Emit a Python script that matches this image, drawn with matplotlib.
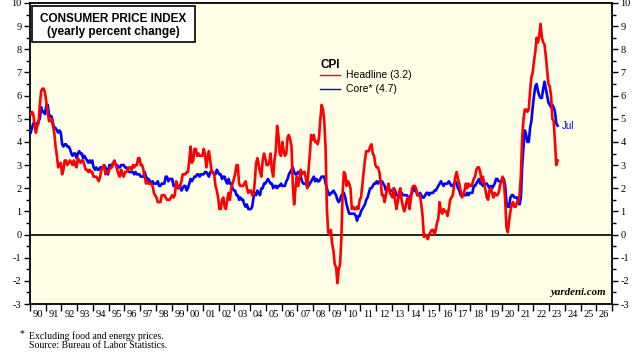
import matplotlib
matplotlib.use("Agg")
import matplotlib.pyplot as plt
from matplotlib.lines import Line2D
from matplotlib.patches import Rectangle
from matplotlib.ticker import FixedLocator, NullFormatter, FixedFormatter

plt.rcParams["axes.unicode_minus"] = False

# Monthly yearly % change, Jan 1990 .. Jul 2023
start_year = 1990
headline = [
    5.2, 5.3, 5.2, 4.7, 4.4, 4.7, 4.8, 5.6, 6.2, 6.3, 6.3, 6.1,   # 1990
    5.7, 5.3, 4.9, 4.9, 5.0, 4.7, 4.4, 3.8, 3.4, 2.9, 3.0, 3.1,   # 1991
    2.6, 2.8, 3.2, 3.2, 3.0, 3.1, 3.2, 3.1, 3.0, 3.2, 3.0, 2.9,   # 1992
    3.3, 3.2, 3.1, 3.2, 3.2, 3.0, 2.8, 2.8, 2.7, 2.8, 2.7, 2.7,   # 1993
    2.5, 2.5, 2.5, 2.4, 2.3, 2.5, 2.8, 2.9, 3.0, 2.6, 2.7, 2.7,   # 1994
    2.8, 2.9, 2.9, 3.1, 3.2, 3.0, 2.8, 2.6, 2.5, 2.8, 2.6, 2.5,   # 1995
    2.7, 2.7, 2.8, 2.9, 2.9, 2.8, 3.0, 2.9, 3.0, 3.0, 3.3, 3.3,   # 1996
    3.0, 3.0, 2.8, 2.5, 2.2, 2.3, 2.2, 2.2, 2.2, 2.1, 1.8, 1.7,   # 1997
    1.6, 1.4, 1.4, 1.4, 1.7, 1.7, 1.7, 1.6, 1.5, 1.5, 1.5, 1.6,   # 1998
    1.7, 1.6, 1.7, 2.3, 2.1, 2.0, 2.1, 2.3, 2.6, 2.6, 2.6, 2.7,   # 1999
    2.7, 3.2, 3.8, 3.1, 3.2, 3.7, 3.7, 3.4, 3.5, 3.4, 3.4, 3.4,   # 2000
    3.7, 3.5, 2.9, 3.3, 3.6, 3.2, 2.7, 2.7, 2.6, 2.1, 1.9, 1.6,   # 2001
    1.1, 1.1, 1.5, 1.6, 1.2, 1.1, 1.5, 1.8, 1.5, 2.0, 2.2, 2.4,   # 2002
    2.6, 3.0, 3.0, 2.2, 2.1, 2.1, 2.1, 2.2, 2.3, 2.0, 1.8, 1.9,   # 2003
    1.9, 1.7, 1.7, 2.3, 3.1, 3.3, 3.0, 2.7, 2.5, 3.2, 3.5, 3.3,   # 2004
    3.0, 3.0, 3.1, 3.5, 2.8, 2.5, 3.2, 3.6, 4.7, 4.3, 3.5, 3.4,   # 2005
    4.0, 3.6, 3.4, 3.5, 4.2, 4.3, 4.1, 3.8, 2.1, 1.3, 2.0, 2.5,   # 2006
    2.1, 2.4, 2.8, 2.6, 2.7, 2.7, 2.4, 2.0, 2.8, 3.5, 4.3, 4.1,   # 2007
    4.3, 4.0, 4.0, 3.9, 4.2, 5.0, 5.6, 5.4, 4.9, 3.7, 1.1, 0.1,   # 2008
    0.0, 0.2, -0.4, -0.7, -1.3, -1.4, -2.1, -1.5, -1.3, -0.2, 1.8, 2.7,  # 2009
    2.6, 2.1, 2.3, 2.2, 2.0, 1.1, 1.2, 1.1, 1.1, 1.2, 1.1, 1.5,   # 2010
    1.6, 2.1, 2.7, 3.2, 3.6, 3.6, 3.6, 3.8, 3.9, 3.5, 3.4, 3.0,   # 2011
    2.9, 2.9, 2.7, 2.3, 1.7, 1.7, 1.4, 1.7, 2.0, 2.2, 1.8, 1.7,   # 2012
    1.6, 2.0, 1.5, 1.1, 1.4, 1.8, 2.0, 1.5, 1.2, 1.0, 1.2, 1.5,   # 2013
    1.6, 1.1, 1.5, 2.0, 2.1, 2.1, 2.0, 1.7, 1.7, 1.7, 1.3, 0.8,   # 2014
    -0.1, 0.0, -0.1, -0.2, 0.0, 0.1, 0.2, 0.2, 0.0, 0.2, 0.5, 0.7,  # 2015
    1.4, 1.0, 0.9, 1.1, 1.0, 1.0, 0.8, 1.1, 1.5, 1.6, 1.7, 2.1,   # 2016
    2.5, 2.7, 2.4, 2.2, 1.9, 1.6, 1.7, 1.9, 2.2, 2.0, 2.2, 2.1,   # 2017
    2.1, 2.2, 2.4, 2.5, 2.8, 2.9, 2.9, 2.7, 2.3, 2.5, 2.2, 1.9,   # 2018
    1.6, 1.5, 1.9, 2.0, 1.8, 1.6, 1.8, 1.7, 1.7, 1.8, 2.1, 2.3,   # 2019
    2.5, 2.3, 1.5, 0.3, 0.1, 0.6, 1.0, 1.3, 1.4, 1.2, 1.2, 1.4,   # 2020
    1.4, 1.7, 2.6, 4.2, 5.0, 5.4, 5.4, 5.3, 5.4, 6.2, 6.8, 7.0,   # 2021
    7.5, 7.9, 8.5, 8.3, 8.6, 9.1, 8.5, 8.3, 8.2, 7.7, 7.1, 6.5,   # 2022
    6.4, 6.0, 5.0, 4.9, 4.0, 3.0, 3.2,                            # 2023
]
core = [
    4.4, 4.6, 4.8, 4.8, 4.7, 4.8, 4.9, 5.0, 5.5, 5.3, 5.3, 5.2,   # 1990
    5.6, 5.6, 5.2, 5.1, 5.1, 4.8, 4.6, 4.6, 4.5, 4.4, 4.5, 4.4,   # 1991
    3.9, 3.8, 3.9, 3.9, 3.8, 3.8, 3.7, 3.5, 3.4, 3.5, 3.5, 3.3,   # 1992
    3.5, 3.6, 3.5, 3.5, 3.3, 3.4, 3.3, 3.2, 3.1, 3.2, 3.1, 3.2,   # 1993
    2.9, 2.8, 2.9, 2.8, 2.8, 2.9, 2.9, 2.9, 3.0, 2.9, 2.8, 2.6,   # 1994
    3.0, 3.0, 3.0, 3.1, 3.1, 3.0, 3.0, 2.9, 2.9, 3.0, 3.0, 3.0,   # 1995
    2.9, 2.9, 2.8, 2.7, 2.7, 2.7, 2.7, 2.6, 2.7, 2.6, 2.6, 2.6,   # 1996
    2.5, 2.5, 2.5, 2.7, 2.5, 2.4, 2.4, 2.3, 2.2, 2.3, 2.2, 2.2,   # 1997
    2.2, 2.3, 2.1, 2.1, 2.2, 2.2, 2.2, 2.5, 2.5, 2.3, 2.4, 2.4,   # 1998
    2.4, 2.1, 2.1, 2.2, 2.0, 2.1, 2.1, 1.9, 2.0, 2.1, 2.1, 1.9,   # 1999
    2.0, 2.2, 2.4, 2.3, 2.4, 2.5, 2.5, 2.6, 2.6, 2.5, 2.6, 2.6,   # 2000
    2.6, 2.7, 2.7, 2.6, 2.5, 2.7, 2.7, 2.7, 2.6, 2.6, 2.8, 2.7,   # 2001
    2.6, 2.6, 2.4, 2.5, 2.5, 2.3, 2.2, 2.4, 2.2, 2.2, 2.0, 1.9,   # 2002
    1.9, 1.7, 1.7, 1.5, 1.6, 1.5, 1.5, 1.3, 1.2, 1.3, 1.1, 1.1,   # 2003
    1.1, 1.2, 1.6, 1.8, 1.7, 1.9, 1.8, 1.7, 2.0, 2.0, 2.2, 2.2,   # 2004
    2.3, 2.4, 2.3, 2.2, 2.2, 2.0, 2.1, 2.1, 2.0, 2.1, 2.1, 2.2,   # 2005
    2.1, 2.1, 2.1, 2.3, 2.4, 2.6, 2.7, 2.8, 2.9, 2.7, 2.6, 2.6,   # 2006
    2.7, 2.7, 2.5, 2.3, 2.2, 2.2, 2.2, 2.1, 2.1, 2.2, 2.3, 2.4,   # 2007
    2.5, 2.3, 2.4, 2.3, 2.3, 2.4, 2.5, 2.5, 2.5, 2.2, 2.0, 1.8,   # 2008
    1.7, 1.8, 1.8, 1.9, 1.8, 1.7, 1.5, 1.4, 1.5, 1.7, 1.7, 1.8,   # 2009
    1.6, 1.3, 1.1, 0.9, 0.9, 0.9, 0.9, 0.9, 0.8, 0.6, 0.8, 0.8,   # 2010
    1.0, 1.1, 1.2, 1.3, 1.5, 1.6, 1.8, 2.0, 2.0, 2.1, 2.2, 2.2,   # 2011
    2.3, 2.2, 2.3, 2.3, 2.3, 2.2, 2.1, 1.9, 2.0, 2.0, 1.9, 1.9,   # 2012
    1.9, 2.0, 1.9, 1.7, 1.7, 1.6, 1.7, 1.8, 1.7, 1.7, 1.7, 1.7,   # 2013
    1.6, 1.6, 1.7, 1.8, 2.0, 1.9, 1.9, 1.7, 1.7, 1.8, 1.7, 1.6,   # 2014
    1.6, 1.7, 1.8, 1.8, 1.7, 1.8, 1.8, 1.8, 1.9, 1.9, 2.0, 2.1,   # 2015
    2.2, 2.3, 2.2, 2.1, 2.2, 2.2, 2.2, 2.3, 2.2, 2.1, 2.1, 2.2,   # 2016
    2.3, 2.2, 2.0, 1.9, 1.7, 1.7, 1.7, 1.7, 1.7, 1.8, 1.7, 1.8,   # 2017
    1.8, 1.8, 2.1, 2.1, 2.2, 2.3, 2.4, 2.2, 2.2, 2.1, 2.2, 2.2,   # 2018
    2.2, 2.1, 2.0, 2.1, 2.0, 2.1, 2.2, 2.4, 2.4, 2.3, 2.3, 2.3,   # 2019
    2.3, 2.4, 2.1, 1.4, 1.2, 1.2, 1.6, 1.7, 1.7, 1.6, 1.6, 1.6,   # 2020
    1.4, 1.3, 1.6, 3.0, 3.8, 4.5, 4.3, 4.0, 4.0, 4.6, 4.9, 5.5,   # 2021
    6.0, 6.4, 6.5, 6.2, 6.0, 5.9, 5.9, 6.3, 6.6, 6.3, 6.0, 5.7,   # 2022
    5.6, 5.5, 5.6, 5.5, 5.3, 4.8, 4.7,                            # 2023
]
year_labels = [f"{y % 100:02d}" for y in range(1990, 2027)]
y_ticks = list(range(-3, 11))
last_month_label = "Jul"
headline_label = "Headline (3.2)"
core_label = "Core* (4.7)"

x_h = [start_year + (i + 0.5) / 12 for i in range(len(headline))]
x_c = [start_year + (i + 0.5) / 12 for i in range(len(core))]

SERIF = ["Liberation Serif", "DejaVu Serif"]
SANS = ["Liberation Sans", "DejaVu Sans"]
RED = "#FF0000"
BLUE = "#0000FF"

fig = plt.figure(figsize=(6.4, 3.6), dpi=100)
fig.patch.set_facecolor("white")
ax = fig.add_axes([30 / 640, 1 - 304 / 360, 582 / 640, 301 / 360])
ax.set_facecolor("#FFFEE6")

ax.axhline(0, color="black", lw=1.2, zorder=2)
ax.plot(x_c, core, color=BLUE, lw=1.9, zorder=3, solid_joinstyle="round")
ax.plot(x_h, headline, color=RED, lw=1.9, zorder=4, solid_joinstyle="round")

ax.set_xlim(1990, 2027)
ax.set_ylim(-3, 10)

for s in ax.spines.values():
    s.set_linewidth(1.3)

# y axis: both sides
ax.set_yticks(y_ticks)
ax.yaxis.set_minor_locator(FixedLocator([v + 0.5 for v in y_ticks[:-1]]))
ax.tick_params(axis="y", which="both", direction="out", left=True, right=True,
               labelleft=True, labelright=True, width=1.0, pad=2)
ax.tick_params(axis="y", which="major", length=4)
ax.tick_params(axis="y", which="minor", length=3)
for lab in ax.get_yticklabels():
    lab.set_fontfamily(SERIF)
    lab.set_fontsize(7.5)

# x axis: ticks at year boundaries, labels centred
ax.xaxis.set_major_locator(FixedLocator(list(range(1990, 2028))))
ax.xaxis.set_major_formatter(NullFormatter())
ax.xaxis.set_minor_locator(FixedLocator([y + 0.5 for y in range(1990, 2027)]))
ax.xaxis.set_minor_formatter(FixedFormatter(year_labels))
ax.tick_params(axis="x", which="major", direction="out", length=5, width=1.0)
ax.tick_params(axis="x", which="minor", length=0, pad=4)
for lab in ax.get_xticklabels(minor=True):
    lab.set_fontfamily(SERIF)
    lab.set_fontsize(7.5)

# title box
fig.add_artist(Rectangle((32 / 640, 1 - 42 / 360), 163 / 640, 36 / 360,
                         transform=fig.transFigure, facecolor="white",
                         edgecolor="black", lw=1.2, zorder=10))
fig.text(113.5 / 640, 1 - 18.5 / 360, "CONSUMER PRICE INDEX", ha="center", va="center",
         fontsize=8.5, fontweight="bold", family=SANS, zorder=11)
fig.text(113.5 / 640, 1 - 31.5 / 360, "(yearly percent change)", ha="center", va="center",
         fontsize=8.5, fontweight="bold", family=SANS, zorder=11)

# legend
fig.text(320.5 / 640, 1 - 65 / 360, "CPI", ha="left", va="center", fontsize=8.5,
         fontweight="bold", family=SANS)
fig.add_artist(Line2D([320 / 640, 340 / 640], [1 - 75.3 / 360] * 2, color=RED, lw=1.0,
                      transform=fig.transFigure))
fig.add_artist(Line2D([320 / 640, 340 / 640], [1 - 89.3 / 360] * 2, color=BLUE, lw=1.0,
                      transform=fig.transFigure))
fig.text(346.5 / 640, 1 - 75.3 / 360, headline_label, ha="left", va="center",
         fontsize=7.5, family=SANS)
fig.text(346.5 / 640, 1 - 89.3 / 360, core_label, ha="left", va="center",
         fontsize=7.5, family=SANS)

# last-month label
ax.annotate(last_month_label, (x_c[-1], core[-1]), xytext=(3, 0), textcoords="offset points",
            ha="left", va="center", color=BLUE, fontsize=7, family=SANS)

# watermark
ax.text(0.9895, 0.022, "yardeni.com", transform=ax.transAxes, ha="right", va="bottom",
        fontsize=7.8, fontweight="bold", fontstyle="italic", family=SERIF)

# footnotes
fig.text(20 / 640, 1 - 334 / 360, "*", ha="left", va="center", fontsize=7, family=SERIF)
fig.text(29 / 640, 1 - 335.7 / 360, "Excluding food and energy prices.", ha="left",
         va="center", fontsize=7, family=SERIF)
fig.text(29 / 640, 1 - 345.3 / 360, "Source: Bureau of Labor Statistics.", ha="left",
         va="center", fontsize=7, family=SERIF)

fig.savefig("out.png", dpi=100)
